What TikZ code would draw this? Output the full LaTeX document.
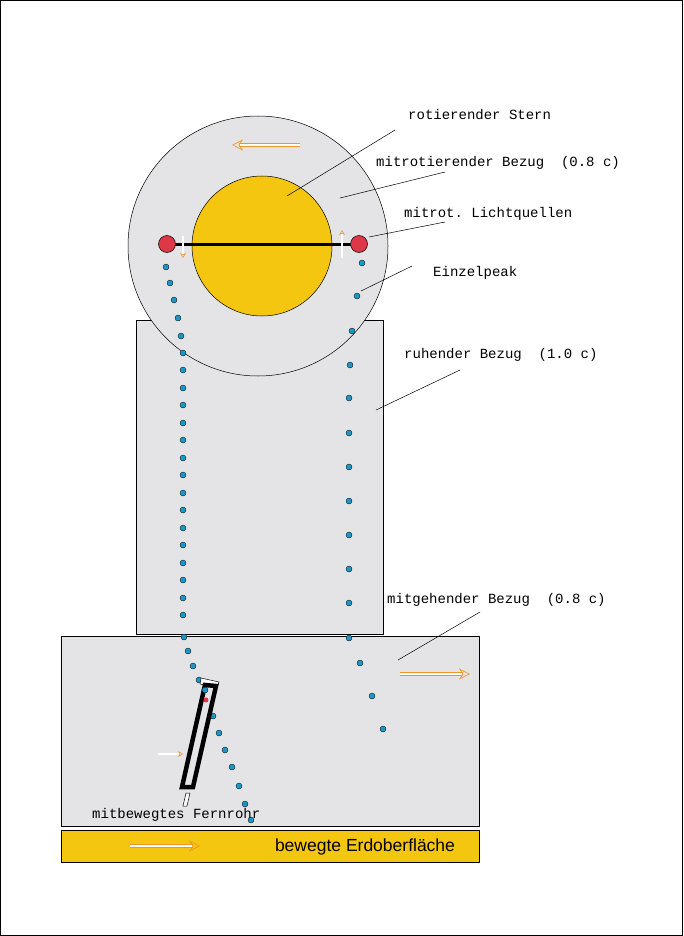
\documentclass[tikz,border=0pt]{standalone}
\usepackage{fontspec}
\setmonofont{Liberation Mono}
\setsansfont{Liberation Sans}
\usetikzlibrary{arrows.meta}
\definecolor{bg}{RGB}{228,228,230}
\definecolor{sun}{RGB}{244,198,16}
\definecolor{redd}{RGB}{222,56,72}
\definecolor{dotb}{RGB}{28,150,196}
\definecolor{orng}{RGB}{240,150,40}
\begin{document}
\begin{tikzpicture}[x=1pt,y=-1pt,
  lbl/.style={anchor=west,font=\ttfamily\fontsize{14}{15}\selectfont,inner sep=0},
  ln/.style={draw=black,line width=0.5pt},
  dot/.style={circle,fill=dotb,draw=black,line width=0.3pt,inner sep=0,minimum size=6pt},
  hol/.style={draw=orng,double=white,double distance=2.2pt,line width=0.6pt,-{Stealth[length=11pt,width=11pt,open]}},
  sm/.style={draw=orng,double=white,double distance=1.2pt,line width=0.5pt,-{Stealth[length=5pt,width=6pt,open]}}]
\useasboundingbox (0,0) rectangle (683,936);
\draw[line width=0.6pt,fill=white] (0.5,0.5) rectangle (682,935);
% rest frame
\draw[fill=bg,line width=0.5pt] (136,320) rectangle (383,634);
% big circle
\draw[fill=bg,line width=0.5pt] (258,246) circle (130);
\draw[fill=sun,line width=0.5pt] (262,246) circle (70);
\draw[line width=3pt] (167,244) -- (359,244);
\node[circle,fill=redd,draw=black,line width=0.5pt,minimum size=17pt,inner sep=0] (l1) at (167,244) {};
\node[circle,fill=redd,draw=black,line width=0.5pt,minimum size=17pt,inner sep=0] (l2) at (359,244) {};
\draw[sm] (183,236) -- (183,258);
\draw[sm] (342,258) -- (342,230);
\draw[hol] (300,145) -- (232,145);
% bottom frame
\draw[fill=bg,line width=0.5pt] (61,636) rectangle (479,826);
\draw[fill=sun,line width=0.5pt] (61,830) rectangle (479,862);
\node[font=\sffamily\fontsize{17.5}{18}\selectfont] (earth) at (365,847) {bewegte Erdoberfläche};
\draw[hol] (130,846) -- (200,846);
\draw[hol] (400,674) -- (470,674);
\draw[sm] (158,754) -- (183,754);
% dots left
\foreach \x/\y in {166/267,170/283,174/300,178/318,181/336,183/353,183/370,183/388,183/405,183/423,183/440,183/458,183/475,183/493,183/510,183/528,183/545,183/563,183/580,183/598,183/615,184/637,188/651,193/666,199/680,213/716,219/733,225/750,232/767,239/786,245/804,251/820}
  \node[dot] at (\x,\y) {};
\foreach \x/\y in {362/263,357/296,352/331,350/365,349/398,349/433,349/467,349/501,349/535,349/569,349/603,349/638,360/663,372/696,383/729}
  \node[dot] at (\x,\y) {};
% telescope
\draw[line width=0.5pt,fill=white] (186,793) -- (190,793) -- (187,806) -- (183,806) -- cycle;
\draw[line width=0.5pt,fill=white] (201,678) -- (219,682) -- (217,688) -- (200,684) -- cycle;
\draw[line width=4.5pt] (182,787) -- (193,787) -- (216,686) -- (205,685) -- cycle;
\node[circle,fill=redd,inner sep=0,minimum size=5pt] (eye) at (206,700) {};
\node[dot] at (205,690) {};
% labels
\node[lbl] (t1) at (408,115) {rotierender Stern};
\draw[ln] (287,196) -- (395,130);
\node[lbl] (t2) at (376,163) {mitrotierender Bezug\ \ (0.8 c)};
\draw[ln] (340,198) -- (445,172);
\node[lbl] (t3) at (404,214) {mitrot. Lichtquellen};
\draw[ln] (369,237) -- (445,222);
\node[lbl] (t4) at (433,273) {Einzelpeak};
\draw[ln] (361,291) -- (412,266);
\node[lbl] (t5) at (404,355) {ruhender Bezug\ \ (1.0 c)};
\draw[ln] (376,410) -- (460,370);
\node[lbl] (t6) at (387,600) {mitgehender Bezug\ \ (0.8 c)};
\draw[ln] (398,660) -- (480,612);
\node[lbl] (t7) at (92,815) {mitbewegtes Fernrohr};
\end{tikzpicture}
\end{document}
